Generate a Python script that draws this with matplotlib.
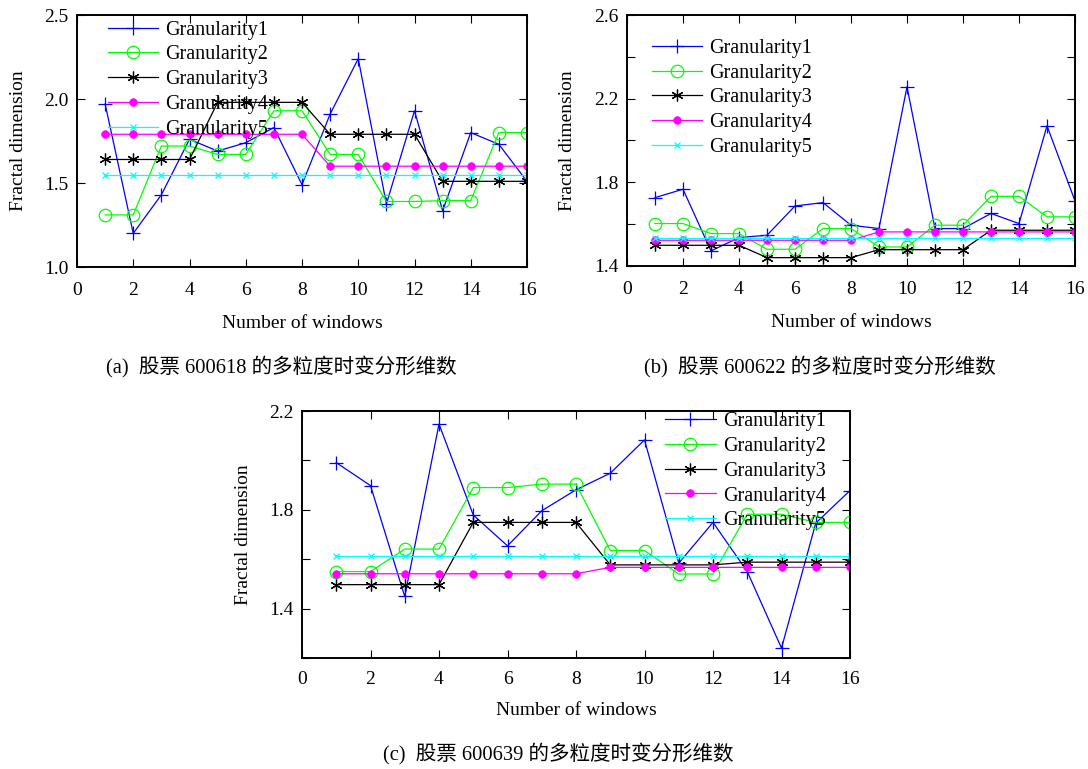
import matplotlib
matplotlib.use("Agg")
import matplotlib.pyplot as plt

plt.rcParams['font.family'] = ['Liberation Serif', 'Noto Sans CJK SC']

# ---------------- data ----------------
windows = [1, 2, 3, 4, 5, 6, 7, 8, 9, 10, 11, 12, 13, 14, 15, 16]
series_names = ["Granularity1", "Granularity2", "Granularity3", "Granularity4", "Granularity5"]

# (a) stock 600618
a_g1 = [1.97, 1.20, 1.43, 1.76, 1.69, 1.74, 1.83, 1.49, 1.91, 2.24, 1.375, 1.93, 1.335, 1.80, 1.73, 1.51]
a_g2 = [1.31, 1.31, 1.72, 1.72, 1.67, 1.67, 1.93, 1.93, 1.67, 1.67, 1.39, 1.39, 1.395, 1.395, 1.80, 1.80]
a_g3 = [1.64, 1.64, 1.64, 1.64, 1.98, 1.98, 1.98, 1.98, 1.79, 1.79, 1.79, 1.79, 1.51, 1.51, 1.51, 1.51]
a_g4 = [1.79, 1.79, 1.79, 1.79, 1.79, 1.79, 1.79, 1.79, 1.60, 1.60, 1.60, 1.60, 1.60, 1.60, 1.60, 1.60]
a_g5 = [1.55, 1.55, 1.55, 1.55, 1.55, 1.55, 1.55, 1.55, 1.55, 1.55, 1.55, 1.55, 1.55, 1.55, 1.55, 1.55]

# (b) stock 600622
b_g1 = [1.727, 1.767, 1.472, 1.536, 1.547, 1.687, 1.703, 1.595, 1.579, 2.257, 1.579, 1.579, 1.651, 1.603, 2.07, 1.711]
b_g2 = [1.603, 1.603, 1.555, 1.555, 1.48, 1.48, 1.579, 1.579, 1.491, 1.491, 1.595, 1.595, 1.733, 1.733, 1.635, 1.635]
b_g3 = [1.499, 1.499, 1.499, 1.499, 1.44, 1.44, 1.44, 1.44, 1.478, 1.478, 1.478, 1.478, 1.571, 1.571, 1.571, 1.571]
b_g4 = [1.523, 1.523, 1.523, 1.523, 1.523, 1.523, 1.523, 1.523, 1.563, 1.563, 1.563, 1.563, 1.563, 1.563, 1.563, 1.563]
b_g5 = [1.534, 1.534, 1.534, 1.534, 1.534, 1.534, 1.534, 1.534, 1.534, 1.534, 1.534, 1.534, 1.534, 1.534, 1.534, 1.534]

# (c) stock 600639
c_g1 = [1.991, 1.898, 1.449, 2.147, 1.779, 1.654, 1.796, 1.881, 1.948, 2.083, 1.584, 1.749, 1.55, 1.24, 1.746, 1.878]
c_g2 = [1.55, 1.55, 1.641, 1.641, 1.89, 1.89, 1.904, 1.904, 1.635, 1.635, 1.54, 1.54, 1.782, 1.782, 1.749, 1.749]
c_g3 = [1.497, 1.497, 1.497, 1.497, 1.749, 1.749, 1.749, 1.749, 1.577, 1.577, 1.577, 1.577, 1.588, 1.588, 1.588, 1.588]
c_g4 = [1.541, 1.541, 1.541, 1.541, 1.541, 1.541, 1.541, 1.541, 1.567, 1.567, 1.567, 1.567, 1.567, 1.567, 1.567, 1.567]
c_g5 = [1.614, 1.614, 1.614, 1.614, 1.614, 1.614, 1.614, 1.614, 1.614, 1.614, 1.614, 1.614, 1.614, 1.614, 1.614, 1.614]

x_ticks = [0, 2, 4, 6, 8, 10, 12, 14, 16]
a_yticks = [1.0, 1.5, 2.0, 2.5]
a_ylabels = ["1.0", "1.5", "2.0", "2.5"]
b_yticks = [1.4, 1.6, 1.8, 2.0, 2.2, 2.4, 2.6]
b_ylabels = ["1.4", "", "1.8", "", "2.2", "", "2.6"]
c_yticks = [1.2, 1.4, 1.6, 1.8, 2.0, 2.2]
c_ylabels = ["", "1.4", "", "1.8", "", "2.2"]

captions = ["(a)  股票 600618 的多粒度时变分形维数",
            "(b)  股票 600622 的多粒度时变分形维数",
            "(c)  股票 600639 的多粒度时变分形维数"]

# ---------------- styling ----------------
styles = [
    dict(color=(0, 0, 1), marker='+', markersize=10, mew=0.9),
    dict(color=(0, 1, 0), marker='o', markersize=9, mfc='none', mew=0.9),
    dict(color='black', marker=(6, 2, 0), markersize=8.5, mew=0.9),
    dict(color=(1, 0, 1), marker='o', markersize=5.5, mew=0.5),
    dict(color=(0, 1, 1), marker='x', markersize=4, mew=0.9),
]

W, H = 1088, 769
fig = plt.figure(figsize=(W / 100, H / 100), dpi=100)


def px_axes(left, top, right, bottom):
    return fig.add_axes([left / W, 1 - bottom / H, (right - left) / W, (bottom - top) / H])


FS = 14


def make_panel(ax, data, ylim, yticks, ylabels, leg_anchor, ylab_x, xlab_y, xpad):
    for vals, name, st in zip(data, series_names, styles):
        ax.plot(windows, vals, lw=0.9, label=name, **st)
    ax.set_xlim(0, 16)
    ax.set_ylim(*ylim)
    ax.set_xticks(x_ticks)
    ax.set_xticklabels([str(t) for t in x_ticks])
    ax.set_yticks(yticks)
    ax.set_yticklabels(ylabels)
    ax.tick_params(axis='both', direction='in', top=True, right=True, length=6,
                   width=0.8, labelsize=FS)
    ax.tick_params(axis='x', pad=xpad)
    ax.tick_params(axis='y', pad=6)
    for s in ax.spines.values():
        s.set_linewidth(1.4)
    ax.set_ylabel("Fractal dimension", fontsize=FS)
    ax.set_xlabel("Number of windows", fontsize=FS)
    ax.yaxis.set_label_coords(ylab_x, 0.5)
    ax.xaxis.set_label_coords(0.5, xlab_y)
    ax.legend(loc='upper left', bbox_to_anchor=leg_anchor, frameon=False,
              fontsize=14.5, borderpad=0, borderaxespad=0, labelspacing=0.28,
              handlelength=2.5, handletextpad=0.35, numpoints=1)


ax_a = px_axes(77, 15, 527, 267)
make_panel(ax_a, [a_g1, a_g2, a_g3, a_g4, a_g5], (1.0, 2.5), a_yticks, a_ylabels,
           (0.069, 0.978), -0.111, -0.19, 11)

ax_b = px_axes(627, 15, 1075, 266)
make_panel(ax_b, [b_g1, b_g2, b_g3, b_g4, b_g5], (1.4, 2.6), b_yticks, b_ylabels,
           (0.056, 0.905), -0.114, -0.19, 11)

ax_c = px_axes(302, 411, 850, 658)
make_panel(ax_c, [c_g1, c_g2, c_g3, c_g4, c_g5], (1.2, 2.2), c_yticks, c_ylabels,
           (0.663, 0.995), -0.091, -0.18, 9)

fig.text(281 / W, 1 - 367 / H, captions[0], ha='center', va='center', fontsize=14.8)
fig.text(820 / W, 1 - 367 / H, captions[1], ha='center', va='center', fontsize=14.8)
fig.text(558 / W, 1 - 754 / H, captions[2], ha='center', va='center', fontsize=14.8)

fig.savefig("out.png", dpi=100)
